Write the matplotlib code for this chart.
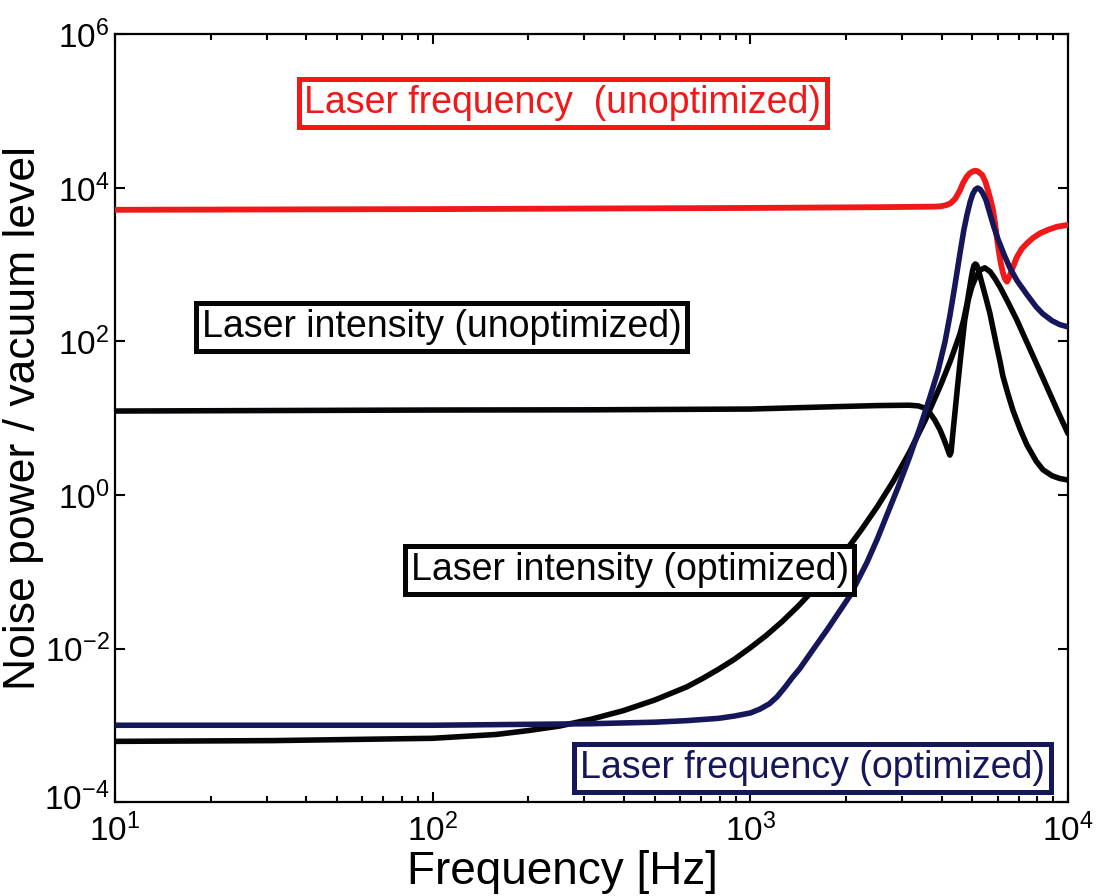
import matplotlib
matplotlib.use("Agg")
import matplotlib.pyplot as plt
from matplotlib.transforms import ScaledTranslation

plt.rcParams['font.family'] = ['Liberation Sans', 'DejaVu Sans']
plt.rcParams['mathtext.fontset'] = 'custom'
plt.rcParams['mathtext.rm'] = 'Liberation Sans'
plt.rcParams['mathtext.it'] = 'Liberation Sans:italic'
plt.rcParams['mathtext.bf'] = 'Liberation Sans:bold'

# ---------------- data (log10 units) ----------------
# Laser frequency noise, unoptimized (red)
red_logf = [1.0, 2.0, 3.0, 3.4, 3.58, 3.60, 3.615, 3.63, 3.645, 3.66, 3.669, 3.68,
            3.69, 3.70, 3.707, 3.715, 3.73, 3.74, 3.748, 3.756, 3.764, 3.77, 3.776,
            3.782, 3.788, 3.795, 3.801, 3.808, 3.814, 3.823, 3.839, 3.855, 3.871,
            3.89, 3.912, 3.94, 3.965, 4.0]
red_logv = [3.716, 3.725, 3.74, 3.75, 3.757, 3.762, 3.775, 3.80, 3.86, 3.97, 4.06,
            4.14, 4.19, 4.215, 4.225, 4.22, 4.17, 4.08, 3.97, 3.85, 3.71, 3.55,
            3.36, 3.18, 3.03, 2.90, 2.82, 2.78, 2.83, 2.93, 3.10, 3.21, 3.28, 3.35,
            3.41, 3.46, 3.495, 3.52]

# Laser frequency noise, optimized (navy)
fopt_logf = [1.0, 2.0, 2.5, 2.7, 2.8, 2.9, 2.95, 3.0, 3.03, 3.06, 3.084, 3.11,
             3.13, 3.156, 3.2, 3.241, 3.28, 3.314, 3.367, 3.40, 3.43, 3.465, 3.50,
             3.534, 3.565, 3.591, 3.613, 3.628, 3.644, 3.66, 3.672, 3.682, 3.692,
             3.70, 3.708, 3.716, 3.724, 3.732, 3.742, 3.754, 3.766, 3.779, 3.80,
             3.817, 3.84, 3.871, 3.90, 3.921, 3.95, 3.974, 4.0]
fopt_logv = [-3.00, -3.00, -2.98, -2.96, -2.94, -2.91, -2.88, -2.84, -2.79, -2.72,
             -2.63, -2.50, -2.39, -2.26, -2.00, -1.76, -1.52, -1.31, -0.88, -0.57,
             -0.26, 0.10, 0.48, 0.88, 1.27, 1.62, 2.00, 2.33, 2.73, 3.15, 3.45,
             3.65, 3.82, 3.92, 3.98, 4.00, 3.98, 3.93, 3.84, 3.67, 3.50, 3.34,
             3.12, 2.96, 2.79, 2.61, 2.45, 2.36, 2.27, 2.22, 2.19]

# Laser intensity noise, optimized (black)
iopt_logf = [1.0, 1.5, 2.0, 2.2, 2.3, 2.4, 2.5, 2.6, 2.7, 2.8, 2.85, 2.9, 2.95,
             3.0, 3.05, 3.1, 3.15, 3.2, 3.25, 3.3, 3.35, 3.4, 3.45, 3.5, 3.55, 3.6,
             3.63, 3.66, 3.672, 3.682, 3.690, 3.696, 3.700, 3.704, 3.708, 3.712,
             3.717, 3.722, 3.729, 3.742, 3.754, 3.765, 3.776, 3.786, 3.795, 3.81,
             3.827, 3.85, 3.871, 3.90, 3.921, 3.95, 3.974, 4.0]
iopt_logv = [-3.21, -3.20, -3.17, -3.12, -3.07, -3.01, -2.92, -2.81, -2.67, -2.50,
             -2.39, -2.27, -2.14, -1.99, -1.83, -1.65, -1.45, -1.23, -0.99, -0.73,
             -0.45, -0.15, 0.18, 0.55, 0.97, 1.44, 1.75, 2.10, 2.29, 2.49, 2.69,
             2.84, 2.93, 2.99, 3.01, 3.00, 2.95, 2.87, 2.76, 2.56, 2.37, 2.15, 1.93,
             1.74, 1.55, 1.33, 1.10, 0.85, 0.65, 0.44, 0.33, 0.25, 0.215, 0.195]

# Laser intensity noise, unoptimized (black)
iun_logf = [1.0, 2.0, 2.5, 3.0, 3.26, 3.4, 3.5, 3.53, 3.55, 3.565, 3.58, 3.597,
            3.61, 3.619, 3.625, 3.628, 3.632, 3.637, 3.644, 3.652, 3.66, 3.668,
            3.675, 3.686, 3.697, 3.71, 3.723, 3.738, 3.755, 3.77, 3.786, 3.81,
            3.839, 3.865, 3.889, 3.915, 3.943, 3.97, 4.0]
iun_logv = [1.094, 1.107, 1.11, 1.12, 1.15, 1.165, 1.17, 1.16, 1.13, 1.07, 0.98,
            0.85, 0.72, 0.62, 0.55, 0.52, 0.56, 0.78, 1.07, 1.40, 1.72, 2.02, 2.28,
            2.54, 2.71, 2.84, 2.93, 2.96, 2.91, 2.82, 2.71, 2.52, 2.28, 2.04, 1.82,
            1.58, 1.32, 1.07, 0.80]

x_ticks = [1e1, 1e2, 1e3, 1e4]
x_tick_labels = [r'$10^{1}$', r'$10^{2}$', r'$10^{3}$', r'$10^{4}$']
y_ticks = [1e-4, 1e-2, 1e0, 1e2, 1e4, 1e6]
y_tick_labels = [r'$10^{-4}$', r'$10^{-2}$', r'$10^{0}$', r'$10^{2}$',
                 r'$10^{4}$', r'$10^{6}$']

labels = ['Laser frequency  (unoptimized)', 'Laser intensity (unoptimized)',
          'Laser intensity (optimized)', 'Laser frequency (optimized)']


def pw(vals):
    return [10.0 ** v for v in vals]


RED = '#f01818'
NAVY = '#16165a'
BLACK = '#050508'

fig = plt.figure(figsize=(10.99, 8.96), dpi=100)
ax = fig.add_axes([115/1099, (896-802)/896, 953/1099, 767.5/896])

kw = dict(solid_joinstyle='round', solid_capstyle='round')
ax.plot(pw(red_logf), pw(red_logv), color=RED, lw=4.2, zorder=3, **kw)
ax.plot(pw(iun_logf), pw(iun_logv), color=BLACK, lw=4.0, zorder=3, **kw)
ax.plot(pw(iopt_logf), pw(iopt_logv), color=BLACK, lw=4.0, zorder=3, **kw)
ax.plot(pw(fopt_logf), pw(fopt_logv), color=NAVY, lw=4.0, zorder=4, **kw)

ax.set_xscale('log')
ax.set_yscale('log')
ax.set_xlim(1e1, 1e4)
ax.set_ylim(1e-4, 1e6)
ax.set_xticks(x_ticks)
ax.set_xticklabels(x_tick_labels)
ax.set_yticks(y_ticks)
ax.set_yticklabels(y_tick_labels)
ax.yaxis.set_minor_locator(matplotlib.ticker.NullLocator())

ax.tick_params(which='both', direction='in', top=True, right=True, width=1.5)
ax.tick_params(which='major', length=7.5)
ax.tick_params(which='minor', length=4.5)
ax.tick_params(axis='x', which='major', labelsize=24, pad=8.5)
ax.tick_params(axis='y', which='major', labelsize=24, pad=4)
for s in ax.spines.values():
    s.set_linewidth(1.6)

# nudge the lowest y tick label up a little so it clears the 10^1 label
lbl0 = ax.yaxis.get_major_ticks()[0].label1
lbl0.set_transform(lbl0.get_transform() +
                   ScaledTranslation(0, 4 / 72, fig.dpi_scale_trans))

ax.set_xlabel('Frequency [Hz]', fontsize=33)
ax.xaxis.set_label_coords(0.469, -0.063)
ax.xaxis.label.set_va('top')
ax.set_ylabel('Noise power / vacuum level', fontsize=32)
ax.yaxis.set_label_coords(-0.074, 0.5)


def label(x, y, txt, tc, ec):
    ax.text(x, y, txt, transform=ax.transAxes, fontsize=27, color=tc,
            ha='center', va='center', zorder=6,
            bbox=dict(boxstyle='square,pad=0.15', fc='white', ec=ec, lw=3.6))


label(0.470, 0.9107, labels[0], RED, RED)
label(0.343, 0.6189, labels[1], BLACK, BLACK)
label(0.540, 0.3023, labels[2], BLACK, BLACK)
label(0.732, 0.0443, labels[3], NAVY, NAVY)

fig.savefig('out.png', dpi=100, facecolor='white')
